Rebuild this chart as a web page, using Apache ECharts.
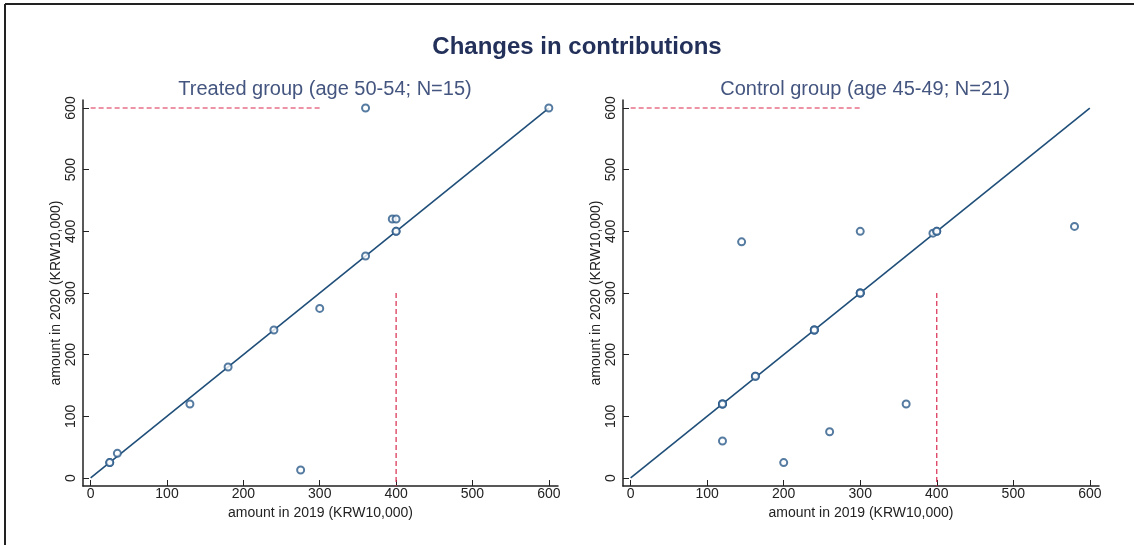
<!DOCTYPE html>
<html>
<head>
<meta charset="utf-8">
<script src="https://cdn.jsdelivr.net/npm/echarts@6/dist/echarts.min.js"></script>
<style>html,body{margin:0;padding:0;background:#fff;}#c{width:1134px;height:545px;}</style>
</head>
<body>
<div id="c"></div>
<script>
const tickValues = [0, 100, 200, 300, 400, 500, 600];
// Treated group: [amount in 2019, amount in 2020]
const treatedPoints = [
  [25, 25], [25, 25], [35, 40], [130, 120], [180, 180], [240, 240],
  [300, 275], [275, 13], [360, 360], [400, 400], [400, 400],
  [395, 420], [400, 420], [360, 600], [600, 600]
];
// Control group
const controlPoints = [
  [120, 120], [120, 120], [120, 60], [163, 165], [200, 25], [240, 240], [240, 240],
  [260, 75], [300, 300], [300, 300], [145, 383], [300, 400], [360, 120],
  [395, 397], [400, 400], [400, 400], [580, 408], [163, 165], [120, 120], [300, 300], [240, 240]
];
const diagonal = [[0, 0], [600, 600]];
const capLine = [[0, 600], [300, 600]];
const limitLine = [[400, 300], [400, -13]];

const FONT = 'Liberation Sans, Arial, sans-serif';
const navy = '#1f4e79';
const red = '#d92a4f';

function xAxis(gi) {
  return {
    type: 'value', gridIndex: gi, min: -10, max: 612,
    name: 'amount in 2019 (KRW10,000)', nameLocation: 'middle', nameGap: 15,
    nameTextStyle: { fontFamily: FONT, fontSize: 14, color: '#222' },
    axisLine: { show: true, onZero: false, lineStyle: { color: '#222', width: 1.5 } },
    axisTick: { show: true, inside: true, length: 6, customValues: tickValues, lineStyle: { color: '#222' } },
    axisLabel: { customValues: tickValues, fontFamily: FONT, fontSize: 14, color: '#222', margin: 1 },
    splitLine: { show: false }
  };
}
function yAxis(gi) {
  return {
    type: 'value', gridIndex: gi, min: -13, max: 613,
    name: 'amount in 2020 (KRW10,000)', nameLocation: 'middle', nameGap: 19,
    nameTextStyle: { fontFamily: FONT, fontSize: 14, color: '#222' },
    axisLine: { show: true, onZero: false, lineStyle: { color: '#222', width: 1.5 } },
    axisTick: { show: true, inside: true, length: 6, customValues: tickValues, lineStyle: { color: '#222' } },
    axisLabel: { customValues: tickValues, rotate: 90, fontFamily: FONT, fontSize: 14, color: '#222', margin: 5 },
    splitLine: { show: false }
  };
}
function groupSeries(gi, pts) {
  return [
    { type: 'line', xAxisIndex: gi, yAxisIndex: gi, data: diagonal, symbol: 'none',
      lineStyle: { color: navy, width: 1.6 }, silent: true, z: 2 },
    { type: 'line', xAxisIndex: gi, yAxisIndex: gi, data: capLine, symbol: 'none',
      lineStyle: { color: red, width: 1.2, type: [5, 3] }, silent: true, z: 1 },
    { type: 'line', xAxisIndex: gi, yAxisIndex: gi, data: limitLine, symbol: 'none',
      lineStyle: { color: red, width: 1.2, type: [5, 3] }, silent: true, z: 1 },
    { type: 'scatter', xAxisIndex: gi, yAxisIndex: gi, data: pts, symbol: 'emptyCircle', symbolSize: 7,
      itemStyle: { color: '#2b5a8a', borderColor: '#2b5a8a', borderWidth: 0.9 }, z: 3 }
  ];
}

const chart = echarts.init(document.getElementById('c'));
chart.setOption({
  backgroundColor: '#fff',
  animation: false,
  title: [
    { text: 'Changes in contributions', left: 572, top: 30, textAlign: 'center',
      textStyle: { fontFamily: FONT, fontSize: 24, fontWeight: 'bold', color: '#22305a' } },
    { text: 'Treated group (age 50-54; N=15)', left: 320, top: 74, textAlign: 'center',
      textStyle: { fontFamily: FONT, fontSize: 20, fontWeight: 'normal', color: '#44557f' } },
    { text: 'Control group (age 45-49; N=21)', left: 860, top: 74, textAlign: 'center',
      textStyle: { fontFamily: FONT, fontSize: 20, fontWeight: 'normal', color: '#44557f' } }
  ],
  grid: [
    { left: 83, top: 100, width: 475, height: 386 },
    { left: 623, top: 100, width: 476, height: 386 }
  ],
  xAxis: [xAxis(0), xAxis(1)],
  yAxis: [yAxis(0), yAxis(1)],
  series: [...groupSeries(0, treatedPoints), ...groupSeries(1, controlPoints)],
  graphic: [
    { type: 'line', shape: { x1: 5, y1: 4, x2: 1134, y2: 4 }, style: { stroke: '#222', lineWidth: 2 } },
    { type: 'line', shape: { x1: 5, y1: 4, x2: 5, y2: 545 }, style: { stroke: '#222', lineWidth: 2 } }
  ]
});
</script>
</body>
</html>
